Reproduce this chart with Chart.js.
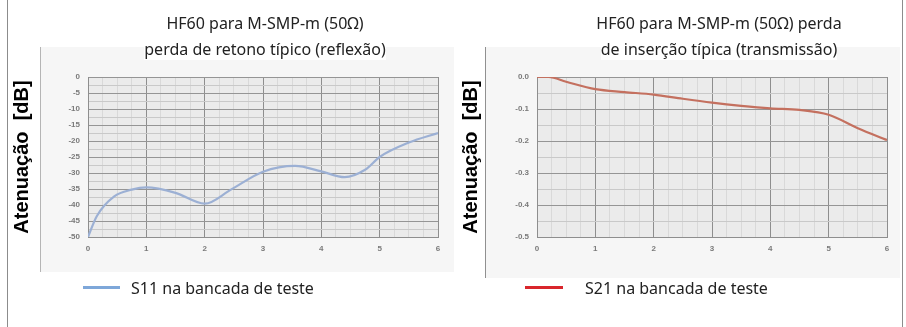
<!DOCTYPE html>
<html>
<head>
<meta charset="utf-8">
<script src="https://cdn.jsdelivr.net/npm/chart.js@4.4.1/dist/chart.umd.min.js"></script>
<style>
  html, body { margin:0; padding:0; background:#fff; }
  #wrap { position:relative; width:906px; height:327px; overflow:hidden; background:#fff; font-family:"Noto Sans", "Open Sans", sans-serif; }
  .vline { position:absolute; top:0; width:1px; height:327px; background:#8c8c8c; }
  .panel { position:absolute; background:#f6f6f6; }
  .title { position:absolute; text-align:center; font-size:16px; color:#222; line-height:26px; white-space:nowrap; }
  canvas { position:absolute; top:0; }
  .leg { position:absolute; top:277px; font-size:16px; color:#222; white-space:nowrap; }
  .legline { position:absolute; height:3px; top:286px; }
</style>
</head>
<body>
<div id="wrap">
  <div class="vline" style="left:7px"></div>
  <div class="vline" style="left:902px"></div>
  <div class="panel" style="left:40px; top:47px; width:413px; height:225px; border-left:1px solid #b5b5b5;"></div>
  <div class="panel" style="left:485px; top:47px; width:414px; height:231px; border-left:1px solid #909090;"></div>
  <canvas id="c1" width="453" height="327" style="left:0; width:453px; height:327px;"></canvas>
  <canvas id="c2" width="453" height="327" style="left:453px; width:453px; height:327px;"></canvas>
  <div class="title" style="left:115px; width:300px; top:10px;">HF60 para M-SMP-m (50Ω)<br><span style="background:#fff">perda de retono típico (reflexão)</span></div>
  <div class="title" style="left:569px; width:300px; top:10px;">HF60 para M-SMP-m (50Ω) perda<br><span style="background:#fff">de inserção típica (transmissão)</span></div>
  <div class="legline" style="left:83px; width:37px; background:#7ea7d9;"></div>
  <div class="leg" style="left:131px;">S11 na bancada de teste</div>
  <div class="legline" style="left:525px; width:38px; background:#d9262c;"></div>
  <div class="leg" style="left:585px;">S21 na bancada de teste</div>
</div>
<script>
// ---- data ----
const s11Freq = [0, 0.15, 0.45, 0.75, 1.0, 1.5, 2.0, 2.45, 3.0, 3.55, 4.0, 4.4, 4.75, 5.0, 5.5, 6.0];
const s11Att  = [-50, -43.5, -37.3, -35.2, -34.5, -36.2, -39.6, -35.2, -29.6, -27.8, -29.5, -31.3, -29.0, -25.0, -20.5, -17.5];
const s21Freq = [0, 0.2, 0.5, 1.0, 1.5, 2.0, 2.5, 3.0, 3.5, 4.0, 4.5, 5.0, 5.5, 6.0];
const s21Att  = [0, 0, -0.015, -0.038, -0.047, -0.055, -0.068, -0.080, -0.090, -0.098, -0.103, -0.118, -0.160, -0.197];
const xTickLabels = ['0', '1', '2', '3', '4', '5', '6'];
const s11TickLabels = ['0', '-5', '-10', '-15', '-20', '-25', '-30', '-35', '-40', '-45', '-50'];
const s21TickLabels = ['0.0', '-0.1', '-0.2', '-0.3', '-0.4', '-0.5'];
const yTitle = 'Atenuação  [dB]';

const plotBg = {
  id: 'plotBg',
  beforeDraw(chart) {
    const {ctx, chartArea: a} = chart;
    ctx.save();
    ctx.fillStyle = '#ebebeb';
    ctx.fillRect(a.left, a.top, a.right - a.left, a.bottom - a.top);
    ctx.restore();
  }
};

function isMult(v, step) {
  const r = v / step;
  return Math.abs(r - Math.round(r)) < 1e-6;
}

function makeChart(id, xs, ys, color, yMin, yStep, yLabels, yMajor, pad) {
  const pts = xs.map((x, i) => ({x: x, y: ys[i]}));
  return new Chart(document.getElementById(id), {
    type: 'line',
    data: { datasets: [{
      data: pts,
      borderColor: color,
      borderWidth: 2.2,
      pointRadius: 0,
      cubicInterpolationMode: 'monotone',
      fill: false
    }]},
    plugins: [plotBg],
    options: {
      responsive: false,
      animation: false,
      layout: { padding: pad },
      plugins: { legend: { display: false }, tooltip: { enabled: false } },
      scales: {
        x: {
          type: 'linear', min: 0, max: 6,
          afterFit(s) { s.height = 90; },
          ticks: {
            stepSize: 0.25, autoSkip: false, maxRotation: 0, padding: 7,
            color: '#7a7a7a', font: { family: 'Liberation Sans', size: 8, weight: 'bold' },
            callback(v) { return isMult(v, 1) ? xTickLabels[Math.round(v)] : ''; }
          },
          grid: {
            drawTicks: false,
            color(c) { return isMult(c.tick.value, 1) ? '#8e8e8e' : '#d9d9d9'; },
            lineWidth: 1
          },
          border: { display: true, color: '#8e8e8e' }
        },
        y: {
          type: 'linear', min: yMin, max: 0,
          afterFit(s) { s.width = 78; },
          title: { display: true, text: yTitle, color: '#000', padding: 0,
                   font: { family: 'Liberation Sans', size: 20, weight: 'bold' } },
          ticks: {
            stepSize: yStep, autoSkip: false, padding: 8,
            color: '#7a7a7a', font: { family: 'Liberation Sans', size: 8, weight: 'bold' },
            callback(v) { return isMult(v, yMajor) ? yLabels[Math.round(-v / yMajor)] : ''; }
          },
          grid: {
            drawTicks: false,
            color(c) { return isMult(c.tick.value, yMajor) ? '#959595' : '#c9c9c9'; },
            lineWidth: 1
          },
          border: { display: true, color: '#8e8e8e' }
        }
      }
    }
  });
}

makeChart('c1', s11Freq, s11Att, '#9cb0d4', -50, 2.5, s11TickLabels, 5, {left: 10, top: 77, right: 15, bottom: 0});
makeChart('c2', s21Freq, s21Att, '#c4705f', -0.5, 0.05, s21TickLabels, 0.1, {left: 6, top: 77, right: 19, bottom: 0});
</script>
</body>
</html>
